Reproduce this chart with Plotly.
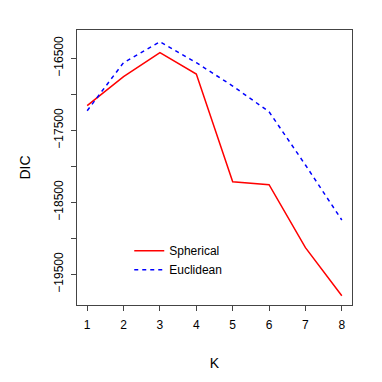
import plotly.graph_objects as go

K = [1, 2, 3, 4, 5, 6, 7, 8]
spherical = [-17158, -16755, -16422, -16718, -18214, -18255, -19130, -19797]
euclidean = [-17228, -16560, -16270, -16560, -16885, -17242, -17982, -18746]
y_ticks = [-16500, -17000, -17500, -18000, -18500, -19000, -19500]
y_ticklabels = ["\u221216500", "", "\u221217500", "", "\u221218500", "", "\u221219500"]

font = "Liberation Sans, Arial, sans-serif"

fig = go.Figure()
fig.add_trace(go.Scatter(x=K, y=spherical, mode="lines", name="Spherical",
                         line=dict(color="#ff0000", width=1.5)))
fig.add_trace(go.Scatter(x=K, y=euclidean, mode="lines", name="Euclidean",
                         line=dict(color="#0000ff", width=1.5, dash="4px,4px")))

fig.update_layout(
    width=382, height=382,
    margin=dict(l=68.5, r=38.3, t=22, b=85, autoexpand=False),
    paper_bgcolor="white", plot_bgcolor="white",
    font=dict(family=font, size=12, color="black"),
    showlegend=True,
    legend=dict(x=0.19, y=0.25, xanchor="left", yanchor="top",
                bgcolor="rgba(0,0,0,0)", borderwidth=0,
                font=dict(family=font, size=12), tracegroupgap=0),
)
fig.update_xaxes(
    range=[0.72, 8.28], tickvals=K, ticktext=[str(k) for k in K],
    showgrid=False, zeroline=False, showline=True, mirror=True, automargin=False,
    linecolor="#444", linewidth=1, ticks="outside", ticklen=5, tickcolor="#444",
    ticklabelstandoff=4,
    title=dict(text="K", standoff=26), tickfont=dict(size=12),
)
fig.update_yaxes(
    range=[-19926, -16107], tickvals=y_ticks, ticktext=y_ticklabels,
    tickangle=-90, automargin=False, ticklabelstandoff=3,
    showgrid=False, zeroline=False, showline=True, mirror=True,
    linecolor="#444", linewidth=1, ticks="outside", ticklen=5, tickcolor="#444",
    title=dict(text="DIC", standoff=18), tickfont=dict(size=12),
)

fig.write_html("out.html")
